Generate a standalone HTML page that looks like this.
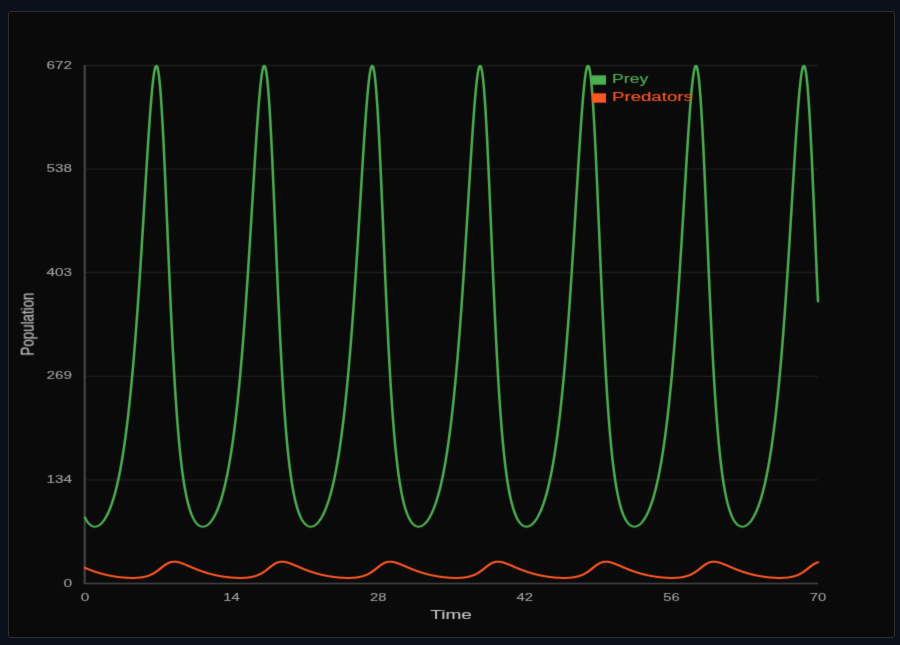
<!DOCTYPE html>
<html><head><meta charset="utf-8"><style>
html,body{margin:0;padding:0;background:#0b0f19;width:900px;height:645px;overflow:hidden}
.card{position:absolute;left:8px;top:11px;width:887px;height:627px;box-sizing:border-box;border:1px solid #2f2f2f;border-radius:3px;background:#0a0a0a}
svg{position:absolute;left:0;top:0;will-change:transform}
text{font-family:"Liberation Sans",sans-serif}
.tk{fill:#a0a0a0;stroke:#a0a0a0;stroke-width:0.1}
.tt{fill:#c4c4c4;stroke:#c4c4c4;stroke-width:0.1}
.lg{stroke-width:0.12}
</style></head><body>
<div class="card"></div>
<svg width="900" height="645" viewBox="0 0 900 645">
<defs><filter id="bl" x="0" y="0" width="900" height="645" filterUnits="userSpaceOnUse" color-interpolation-filters="sRGB"><feConvolveMatrix order="3" kernelMatrix="0.01134 0.08382 0.01134 0.08382 0.61935 0.08382 0.01134 0.08382 0.01134" preserveAlpha="false" edgeMode="none"/></filter></defs>
<g filter="url(#bl)">
<line x1="85" y1="65.5" x2="818" y2="65.5" stroke="#1e1e1e" stroke-width="1.3"/><line x1="85" y1="169.1" x2="818" y2="169.1" stroke="#1e1e1e" stroke-width="1.3"/><line x1="85" y1="272.5" x2="818" y2="272.5" stroke="#1e1e1e" stroke-width="1.3"/><line x1="85" y1="376.3" x2="818" y2="376.3" stroke="#1e1e1e" stroke-width="1.3"/><line x1="85" y1="479.9" x2="818" y2="479.9" stroke="#1e1e1e" stroke-width="1.3"/>
<line x1="84.7" y1="65" x2="84.7" y2="584" stroke="#444444" stroke-width="2.2"/>
<line x1="84" y1="583.5" x2="818" y2="583.5" stroke="#444444" stroke-width="1.5"/>
<text x="72.1" y="68.6" text-anchor="end" font-size="11.5" textLength="25.5" lengthAdjust="spacingAndGlyphs" class="tk">672</text><text x="72.1" y="172.2" text-anchor="end" font-size="11.5" textLength="25.5" lengthAdjust="spacingAndGlyphs" class="tk">538</text><text x="72.1" y="275.6" text-anchor="end" font-size="11.5" textLength="25.5" lengthAdjust="spacingAndGlyphs" class="tk">403</text><text x="72.1" y="379.4" text-anchor="end" font-size="11.5" textLength="25.5" lengthAdjust="spacingAndGlyphs" class="tk">269</text><text x="72.1" y="483.0" text-anchor="end" font-size="11.5" textLength="25.5" lengthAdjust="spacingAndGlyphs" class="tk">134</text><text x="72.1" y="586.6" text-anchor="end" font-size="11.5" textLength="8.6" lengthAdjust="spacingAndGlyphs" class="tk">0</text>
<text x="85.0" y="600.8" text-anchor="middle" font-size="11.5" textLength="8.6" lengthAdjust="spacingAndGlyphs" class="tk">0</text><text x="231.6" y="600.8" text-anchor="middle" font-size="11.5" textLength="16.5" lengthAdjust="spacingAndGlyphs" class="tk">14</text><text x="378.2" y="600.8" text-anchor="middle" font-size="11.5" textLength="16.5" lengthAdjust="spacingAndGlyphs" class="tk">28</text><text x="524.8" y="600.8" text-anchor="middle" font-size="11.5" textLength="16.5" lengthAdjust="spacingAndGlyphs" class="tk">42</text><text x="671.4" y="600.8" text-anchor="middle" font-size="11.5" textLength="16.5" lengthAdjust="spacingAndGlyphs" class="tk">56</text><text x="818.0" y="600.8" text-anchor="middle" font-size="11.5" textLength="16.5" lengthAdjust="spacingAndGlyphs" class="tk">70</text>
<text x="451.15" y="618.8" text-anchor="middle" font-size="13.3" textLength="41.7" lengthAdjust="spacingAndGlyphs" class="tt">Time</text>
<text transform="translate(33.9,324.15) scale(1.3,1) rotate(-90)" x="0" y="0" text-anchor="middle" font-size="13.5" textLength="63" lengthAdjust="spacingAndGlyphs" class="tt">Population</text>
<g transform="scale(1.25,1)" >
<path d="M68.000,517.54 L68.419,518.58 L68.838,519.54 L69.257,520.43 L69.675,521.26 L70.094,522.01 L70.513,522.70 L70.932,523.32 L71.351,523.89 L71.770,524.40 L72.189,524.85 L72.607,525.25 L73.026,525.59 L73.445,525.89 L73.864,526.13 L74.283,526.33 L74.702,526.48 L75.121,526.58 L75.539,526.64 L75.958,526.66 L76.377,526.63 L76.796,526.56 L77.215,526.44 L77.634,526.28 L78.053,526.08 L78.471,525.84 L78.890,525.56 L79.309,525.24 L79.728,524.87 L80.147,524.47 L80.566,524.02 L80.985,523.53 L81.403,523.00 L81.822,522.42 L82.241,521.80 L82.660,521.14 L83.079,520.44 L83.498,519.69 L83.917,518.89 L84.335,518.05 L84.754,517.16 L85.173,516.23 L85.592,515.24 L86.011,514.21 L86.430,513.12 L86.849,511.99 L87.267,510.80 L87.686,509.55 L88.105,508.25 L88.524,506.90 L88.943,505.48 L89.362,504.01 L89.781,502.47 L90.199,500.87 L90.618,499.21 L91.037,497.48 L91.456,495.68 L91.875,493.81 L92.294,491.86 L92.713,489.85 L93.131,487.75 L93.550,485.58 L93.969,483.33 L94.388,480.99 L94.807,478.57 L95.226,476.06 L95.645,473.46 L96.063,470.76 L96.482,467.97 L96.901,465.08 L97.320,462.10 L97.739,459.00 L98.158,455.80 L98.577,452.49 L98.995,449.07 L99.414,445.53 L99.833,441.88 L100.252,438.10 L100.671,434.20 L101.090,430.17 L101.509,426.02 L101.927,421.72 L102.346,417.30 L102.765,412.73 L103.184,408.03 L103.603,403.18 L104.022,398.18 L104.441,393.03 L104.859,387.73 L105.278,382.28 L105.697,376.68 L106.116,370.91 L106.535,364.99 L106.954,358.91 L107.373,352.66 L107.791,346.26 L108.210,339.69 L108.629,332.97 L109.048,326.08 L109.467,319.04 L109.886,311.84 L110.305,304.49 L110.723,296.99 L111.142,289.34 L111.561,281.56 L111.980,273.64 L112.399,265.60 L112.818,257.44 L113.237,249.17 L113.655,240.80 L114.074,232.36 L114.493,223.84 L114.912,215.27 L115.331,206.66 L115.750,198.03 L116.169,189.41 L116.587,180.81 L117.006,172.27 L117.425,163.80 L117.844,155.44 L118.263,147.21 L118.682,139.16 L119.101,131.31 L119.519,123.70 L119.938,116.37 L120.357,109.37 L120.776,102.72 L121.195,96.49 L121.614,90.70 L122.033,85.40 L122.451,80.65 L122.870,76.47 L123.289,72.92 L123.708,70.04 L124.127,67.86 L124.546,66.43 L124.965,65.77 L125.383,65.92 L125.802,66.89 L126.221,68.71 L126.640,71.38 L127.059,74.92 L127.478,79.32 L127.897,84.57 L128.315,90.65 L128.734,97.53 L129.153,105.19 L129.572,113.58 L129.991,122.66 L130.410,132.37 L130.829,142.65 L131.247,153.43 L131.666,164.66 L132.085,176.26 L132.504,188.16 L132.923,200.29 L133.342,212.58 L133.761,224.96 L134.179,237.36 L134.598,249.74 L135.017,262.02 L135.436,274.15 L135.855,286.10 L136.274,297.81 L136.693,309.25 L137.111,320.39 L137.530,331.21 L137.949,341.68 L138.368,351.78 L138.787,361.51 L139.206,370.86 L139.625,379.82 L140.043,388.40 L140.462,396.59 L140.881,404.40 L141.300,411.84 L141.719,418.91 L142.138,425.63 L142.557,432.00 L142.975,438.04 L143.394,443.76 L143.813,449.17 L144.232,454.29 L144.651,459.12 L145.070,463.69 L145.489,467.99 L145.907,472.06 L146.326,475.89 L146.745,479.50 L147.164,482.90 L147.583,486.10 L148.002,489.12 L148.421,491.95 L148.839,494.62 L149.258,497.13 L149.677,499.48 L150.096,501.70 L150.515,503.77 L150.934,505.72 L151.353,507.55 L151.771,509.26 L152.190,510.86 L152.609,512.36 L153.028,513.76 L153.447,515.07 L153.866,516.28 L154.285,517.42 L154.703,518.47 L155.122,519.44 L155.541,520.34 L155.960,521.17 L156.379,521.93 L156.798,522.62 L157.217,523.25 L157.635,523.83 L158.054,524.34 L158.473,524.80 L158.892,525.20 L159.311,525.56 L159.730,525.86 L160.149,526.11 L160.567,526.31 L160.986,526.46 L161.405,526.57 L161.824,526.64 L162.243,526.66 L162.662,526.63 L163.081,526.57 L163.499,526.46 L163.918,526.30 L164.337,526.11 L164.756,525.87 L165.175,525.60 L165.594,525.28 L166.013,524.92 L166.431,524.51 L166.850,524.07 L167.269,523.58 L167.688,523.06 L168.107,522.49 L168.526,521.87 L168.945,521.22 L169.363,520.52 L169.782,519.77 L170.201,518.98 L170.620,518.15 L171.039,517.26 L171.458,516.33 L171.877,515.36 L172.295,514.33 L172.714,513.25 L173.133,512.12 L173.552,510.93 L173.971,509.70 L174.390,508.40 L174.809,507.05 L175.227,505.64 L175.646,504.18 L176.065,502.65 L176.484,501.05 L176.903,499.40 L177.322,497.67 L177.741,495.88 L178.159,494.02 L178.578,492.08 L178.997,490.08 L179.416,487.99 L179.835,485.83 L180.254,483.58 L180.673,481.26 L181.091,478.84 L181.510,476.34 L181.929,473.75 L182.348,471.07 L182.767,468.29 L183.186,465.41 L183.605,462.44 L184.023,459.36 L184.442,456.17 L184.861,452.87 L185.280,449.46 L185.699,445.94 L186.118,442.30 L186.537,438.53 L186.955,434.65 L187.374,430.63 L187.793,426.49 L188.212,422.21 L188.631,417.80 L189.050,413.25 L189.469,408.56 L189.887,403.73 L190.306,398.75 L190.725,393.62 L191.144,388.34 L191.563,382.90 L191.982,377.31 L192.401,371.57 L192.819,365.66 L193.238,359.60 L193.657,353.37 L194.076,346.99 L194.495,340.44 L194.914,333.73 L195.333,326.87 L195.751,319.84 L196.170,312.66 L196.589,305.33 L197.008,297.84 L197.427,290.21 L197.846,282.44 L198.265,274.54 L198.683,266.51 L199.102,258.36 L199.521,250.10 L199.940,241.75 L200.359,233.31 L200.778,224.80 L201.197,216.23 L201.615,207.63 L202.034,199.00 L202.453,190.38 L202.872,181.78 L203.291,173.22 L203.710,164.75 L204.129,156.37 L204.547,148.13 L204.966,140.05 L205.385,132.18 L205.804,124.54 L206.223,117.18 L206.642,110.14 L207.061,103.45 L207.479,97.17 L207.898,91.33 L208.317,85.97 L208.736,81.15 L209.155,76.91 L209.574,73.29 L209.993,70.33 L210.411,68.07 L210.830,66.55 L211.249,65.80 L211.668,65.86 L212.087,66.74 L212.506,68.46 L212.925,71.04 L213.343,74.48 L213.762,78.78 L214.181,83.93 L214.600,89.92 L215.019,96.72 L215.438,104.29 L215.857,112.61 L216.275,121.61 L216.694,131.25 L217.113,141.46 L217.532,152.20 L217.951,163.38 L218.370,174.94 L218.789,186.81 L219.207,198.91 L219.626,211.19 L220.045,223.56 L220.464,235.97 L220.883,248.35 L221.302,260.64 L221.721,272.80 L222.139,284.77 L222.558,296.51 L222.977,307.98 L223.396,319.16 L223.815,330.01 L224.234,340.52 L224.653,350.66 L225.071,360.44 L225.490,369.83 L225.909,378.83 L226.328,387.45 L226.747,395.69 L227.166,403.54 L227.585,411.02 L228.003,418.13 L228.422,424.89 L228.841,431.30 L229.260,437.38 L229.679,443.13 L230.098,448.58 L230.517,453.73 L230.935,458.59 L231.354,463.19 L231.773,467.52 L232.192,471.61 L232.611,475.47 L233.030,479.10 L233.449,482.53 L233.867,485.75 L234.286,488.79 L234.705,491.64 L235.124,494.33 L235.543,496.85 L235.962,499.23 L236.381,501.45 L236.799,503.55 L237.218,505.51 L237.637,507.35 L238.056,509.08 L238.475,510.69 L238.894,512.20 L239.313,513.61 L239.731,514.93 L240.150,516.15 L240.569,517.29 L240.988,518.35 L241.407,519.33 L241.826,520.24 L242.245,521.08 L242.663,521.84 L243.082,522.55 L243.501,523.19 L243.920,523.77 L244.339,524.29 L244.758,524.75 L245.177,525.16 L245.595,525.52 L246.014,525.82 L246.433,526.08 L246.852,526.29 L247.271,526.45 L247.690,526.56 L248.109,526.63 L248.527,526.66 L248.946,526.64 L249.365,526.58 L249.784,526.47 L250.203,526.32 L250.622,526.13 L251.041,525.90 L251.459,525.63 L251.878,525.31 L252.297,524.96 L252.716,524.56 L253.135,524.12 L253.554,523.64 L253.973,523.12 L254.391,522.55 L254.810,521.95 L255.229,521.29 L255.648,520.60 L256.067,519.86 L256.486,519.07 L256.905,518.24 L257.323,517.37 L257.742,516.44 L258.161,515.47 L258.580,514.45 L258.999,513.37 L259.418,512.25 L259.837,511.07 L260.255,509.84 L260.674,508.55 L261.093,507.21 L261.512,505.81 L261.931,504.34 L262.350,502.82 L262.769,501.24 L263.187,499.59 L263.606,497.87 L264.025,496.09 L264.444,494.23 L264.863,492.31 L265.282,490.31 L265.701,488.23 L266.119,486.08 L266.538,483.84 L266.957,481.52 L267.376,479.12 L267.795,476.63 L268.214,474.05 L268.633,471.38 L269.051,468.61 L269.470,465.74 L269.889,462.78 L270.308,459.71 L270.727,456.53 L271.146,453.25 L271.565,449.85 L271.983,446.34 L272.402,442.71 L272.821,438.96 L273.240,435.09 L273.659,431.09 L274.078,426.96 L274.497,422.70 L274.915,418.31 L275.334,413.77 L275.753,409.10 L276.172,404.28 L276.591,399.32 L277.010,394.20 L277.429,388.94 L277.847,383.52 L278.266,377.95 L278.685,372.22 L279.104,366.33 L279.523,360.29 L279.942,354.08 L280.361,347.71 L280.779,341.19 L281.198,334.50 L281.617,327.65 L282.036,320.64 L282.455,313.48 L282.874,306.16 L283.293,298.69 L283.711,291.08 L284.130,283.32 L284.549,275.43 L284.968,267.42 L285.387,259.28 L285.806,251.04 L286.225,242.69 L286.643,234.26 L287.062,225.76 L287.481,217.20 L287.900,208.60 L288.319,199.97 L288.738,191.35 L289.157,182.74 L289.575,174.18 L289.994,165.70 L290.413,157.31 L290.832,149.05 L291.251,140.95 L291.670,133.05 L292.089,125.39 L292.507,118.00 L292.926,110.91 L293.345,104.19 L293.764,97.85 L294.183,91.96 L294.602,86.55 L295.021,81.67 L295.439,77.36 L295.858,73.67 L296.277,70.63 L296.696,68.29 L297.115,66.69 L297.534,65.85 L297.953,65.81 L298.371,66.60 L298.790,68.22 L299.209,70.71 L299.628,74.05 L300.047,78.25 L300.466,83.31 L300.885,89.21 L301.303,95.92 L301.722,103.40 L302.141,111.63 L302.560,120.56 L302.979,130.13 L303.398,140.29 L303.817,150.97 L304.235,162.10 L304.654,173.62 L305.073,185.46 L305.492,197.54 L305.911,209.80 L306.330,222.17 L306.749,234.57 L307.167,246.96 L307.586,259.26 L308.005,271.44 L308.424,283.43 L308.843,295.20 L309.262,306.70 L309.681,317.91 L310.099,328.80 L310.518,339.35 L310.937,349.54 L311.356,359.36 L311.775,368.79 L312.194,377.84 L312.613,386.50 L313.031,394.78 L313.450,402.67 L313.869,410.20 L314.288,417.35 L314.707,424.15 L315.126,430.60 L315.545,436.71 L315.963,442.50 L316.382,447.98 L316.801,453.16 L317.220,458.06 L317.639,462.68 L318.058,467.05 L318.477,471.16 L318.895,475.05 L319.314,478.70 L319.733,482.15 L320.152,485.40 L320.571,488.45 L320.990,491.33 L321.409,494.03 L321.827,496.58 L322.246,498.97 L322.665,501.21 L323.084,503.32 L323.503,505.30 L323.922,507.15 L324.341,508.89 L324.759,510.51 L325.178,512.03 L325.597,513.46 L326.016,514.78 L326.435,516.02 L326.854,517.17 L327.273,518.24 L327.691,519.23 L328.110,520.14 L328.529,520.99 L328.948,521.76 L329.367,522.47 L329.786,523.12 L330.205,523.70 L330.623,524.23 L331.042,524.70 L331.461,525.12 L331.880,525.48 L332.299,525.79 L332.718,526.05 L333.137,526.27 L333.555,526.43 L333.974,526.55 L334.393,526.63 L334.812,526.66 L335.231,526.64 L335.650,526.58 L336.069,526.48 L336.487,526.34 L336.906,526.16 L337.325,525.93 L337.744,525.66 L338.163,525.35 L338.582,525.00 L339.001,524.61 L339.419,524.17 L339.838,523.70 L340.257,523.18 L340.676,522.62 L341.095,522.02 L341.514,521.37 L341.933,520.68 L342.351,519.94 L342.770,519.16 L343.189,518.34 L343.608,517.47 L344.027,516.55 L344.446,515.58 L344.865,514.56 L345.283,513.50 L345.702,512.38 L346.121,511.20 L346.540,509.98 L346.959,508.70 L347.378,507.36 L347.797,505.97 L348.215,504.51 L348.634,503.00 L349.053,501.42 L349.472,499.78 L349.891,498.07 L350.310,496.29 L350.729,494.44 L351.147,492.53 L351.566,490.53 L351.985,488.47 L352.404,486.32 L352.823,484.10 L353.242,481.79 L353.661,479.39 L354.079,476.91 L354.498,474.34 L354.917,471.68 L355.336,468.92 L355.755,466.07 L356.174,463.12 L356.593,460.06 L357.011,456.89 L357.430,453.62 L357.849,450.24 L358.268,446.74 L358.687,443.13 L359.106,439.39 L359.525,435.53 L359.943,431.55 L360.362,427.43 L360.781,423.19 L361.200,418.81 L361.619,414.29 L362.038,409.63 L362.457,404.83 L362.875,399.88 L363.294,394.79 L363.713,389.54 L364.132,384.14 L364.551,378.58 L364.970,372.87 L365.389,367.00 L365.807,360.98 L366.226,354.79 L366.645,348.44 L367.064,341.93 L367.483,335.26 L367.902,328.43 L368.321,321.44 L368.739,314.29 L369.158,306.99 L369.577,299.54 L369.996,291.94 L370.415,284.20 L370.834,276.33 L371.253,268.33 L371.671,260.20 L372.090,251.97 L372.509,243.64 L372.928,235.22 L373.347,226.72 L373.766,218.16 L374.185,209.57 L374.603,200.94 L375.022,192.32 L375.441,183.71 L375.860,175.14 L376.279,166.65 L376.698,158.24 L377.117,149.97 L377.535,141.85 L377.954,133.93 L378.373,126.24 L378.792,118.81 L379.211,111.69 L379.630,104.92 L380.049,98.54 L380.467,92.60 L380.886,87.13 L381.305,82.19 L381.724,77.81 L382.143,74.05 L382.562,70.94 L382.981,68.52 L383.399,66.83 L383.818,65.90 L384.237,65.77 L384.656,66.47 L385.075,68.00 L385.494,70.38 L385.913,73.63 L386.331,77.74 L386.750,82.70 L387.169,88.50 L387.588,95.12 L388.007,102.52 L388.426,110.67 L388.845,119.52 L389.263,129.02 L389.682,139.12 L390.101,149.74 L390.520,160.83 L390.939,172.31 L391.358,184.11 L391.777,196.17 L392.195,208.41 L392.614,220.77 L393.033,233.18 L393.452,245.57 L393.871,257.89 L394.290,270.08 L394.709,282.09 L395.127,293.89 L395.546,305.42 L395.965,316.67 L396.384,327.60 L396.803,338.18 L397.222,348.41 L397.641,358.27 L398.059,367.75 L398.478,376.84 L398.897,385.55 L399.316,393.87 L399.735,401.80 L400.154,409.37 L400.573,416.56 L400.991,423.40 L401.410,429.89 L401.829,436.04 L402.248,441.86 L402.667,447.38 L403.086,452.59 L403.505,457.52 L403.923,462.17 L404.342,466.57 L404.761,470.71 L405.180,474.62 L405.599,478.30 L406.018,481.77 L406.437,485.04 L406.855,488.12 L407.274,491.01 L407.693,493.74 L408.112,496.30 L408.531,498.70 L408.950,500.96 L409.369,503.09 L409.787,505.08 L410.206,506.95 L410.625,508.70 L411.044,510.34 L411.463,511.87 L411.882,513.30 L412.301,514.64 L412.719,515.88 L413.138,517.04 L413.557,518.12 L413.976,519.12 L414.395,520.04 L414.814,520.89 L415.233,521.68 L415.651,522.39 L416.070,523.05 L416.489,523.64 L416.908,524.17 L417.327,524.65 L417.746,525.07 L418.165,525.44 L418.583,525.76 L419.002,526.03 L419.421,526.25 L419.840,526.42 L420.259,526.54 L420.678,526.62 L421.097,526.66 L421.515,526.65 L421.934,526.59 L422.353,526.50 L422.772,526.36 L423.191,526.18 L423.610,525.96 L424.029,525.69 L424.447,525.39 L424.866,525.04 L425.285,524.65 L425.704,524.22 L426.123,523.75 L426.542,523.24 L426.961,522.68 L427.379,522.09 L427.798,521.44 L428.217,520.76 L428.636,520.03 L429.055,519.25 L429.474,518.43 L429.893,517.57 L430.311,516.65 L430.730,515.69 L431.149,514.68 L431.568,513.62 L431.987,512.50 L432.406,511.34 L432.825,510.12 L433.243,508.85 L433.662,507.51 L434.081,506.13 L434.500,504.68 L434.919,503.17 L435.338,501.60 L435.757,499.96 L436.175,498.26 L436.594,496.49 L437.013,494.66 L437.432,492.75 L437.851,490.76 L438.270,488.70 L438.689,486.57 L439.107,484.35 L439.526,482.05 L439.945,479.67 L440.364,477.20 L440.783,474.64 L441.202,471.99 L441.621,469.24 L442.039,466.40 L442.458,463.45 L442.877,460.41 L443.296,457.26 L443.715,454.00 L444.134,450.62 L444.553,447.14 L444.971,443.54 L445.390,439.82 L445.809,435.97 L446.228,432.00 L446.647,427.90 L447.066,423.67 L447.485,419.31 L447.903,414.80 L448.322,410.16 L448.741,405.38 L449.160,400.45 L449.579,395.37 L449.998,390.14 L450.417,384.75 L450.835,379.22 L451.254,373.52 L451.673,367.67 L452.092,361.66 L452.511,355.49 L452.930,349.16 L453.349,342.67 L453.767,336.02 L454.186,329.20 L454.605,322.23 L455.024,315.10 L455.443,307.82 L455.862,300.38 L456.281,292.80 L456.699,285.08 L457.118,277.22 L457.537,269.23 L457.956,261.12 L458.375,252.90 L458.794,244.58 L459.213,236.17 L459.631,227.68 L460.050,219.13 L460.469,210.54 L460.888,201.91 L461.307,193.29 L461.726,184.68 L462.145,176.10 L462.563,167.60 L462.982,159.18 L463.401,150.89 L463.820,142.76 L464.239,134.81 L464.658,127.09 L465.077,119.63 L465.495,112.48 L465.914,105.67 L466.333,99.24 L466.752,93.24 L467.171,87.72 L467.590,82.72 L468.009,78.28 L468.427,74.44 L468.846,71.25 L469.265,68.75 L469.684,66.98 L470.103,65.97 L470.522,65.75 L470.941,66.35 L471.359,67.78 L471.778,70.07 L472.197,73.22 L472.616,77.23 L473.035,82.10 L473.454,87.81 L473.873,94.34 L474.291,101.65 L474.710,109.72 L475.129,118.49 L475.548,127.93 L475.967,137.95 L476.386,148.52 L476.805,159.56 L477.223,171.00 L477.642,182.77 L478.061,194.81 L478.480,207.03 L478.899,219.38 L479.318,231.78 L479.737,244.18 L480.155,256.50 L480.574,268.71 L480.993,280.75 L481.412,292.57 L481.831,304.14 L482.250,315.42 L482.669,326.38 L483.087,337.01 L483.506,347.28 L483.925,357.18 L484.344,366.70 L484.763,375.84 L485.182,384.59 L485.601,392.95 L486.019,400.93 L486.438,408.54 L486.857,415.77 L487.276,422.65 L487.695,429.17 L488.114,435.36 L488.533,441.22 L488.951,446.77 L489.370,452.02 L489.789,456.98 L490.208,461.66 L490.627,466.09 L491.046,470.26 L491.465,474.19 L491.883,477.90 L492.302,481.39 L492.721,484.68 L493.140,487.78 L493.559,490.70 L493.978,493.44 L494.397,496.02 L494.815,498.44 L495.234,500.72 L495.653,502.86 L496.072,504.86 L496.491,506.74 L496.910,508.51 L497.329,510.16 L497.747,511.70 L498.166,513.14 L498.585,514.49 L499.004,515.75 L499.423,516.92 L499.842,518.00 L500.261,519.01 L500.679,519.94 L501.098,520.80 L501.517,521.59 L501.936,522.32 L502.355,522.98 L502.774,523.58 L503.193,524.12 L503.611,524.60 L504.030,525.03 L504.449,525.40 L504.868,525.73 L505.287,526.00 L505.706,526.22 L506.125,526.40 L506.543,526.53 L506.962,526.61 L507.381,526.65 L507.800,526.65 L508.219,526.60 L508.638,526.51 L509.057,526.38 L509.475,526.20 L509.894,525.98 L510.313,525.73 L510.732,525.42 L511.151,525.08 L511.570,524.70 L511.989,524.28 L512.407,523.81 L512.826,523.30 L513.245,522.75 L513.664,522.16 L514.083,521.52 L514.502,520.84 L514.921,520.11 L515.339,519.34 L515.758,518.53 L516.177,517.67 L516.596,516.76 L517.015,515.80 L517.434,514.80 L517.853,513.74 L518.271,512.63 L518.690,511.47 L519.109,510.26 L519.528,508.99 L519.947,507.67 L520.366,506.29 L520.785,504.84 L521.203,503.34 L521.622,501.78 L522.041,500.15 L522.460,498.46 L522.879,496.70 L523.298,494.87 L523.717,492.96 L524.135,490.99 L524.554,488.94 L524.973,486.81 L525.392,484.60 L525.811,482.31 L526.230,479.94 L526.649,477.48 L527.067,474.93 L527.486,472.29 L527.905,469.55 L528.324,466.72 L528.743,463.79 L529.162,460.75 L529.581,457.62 L529.999,454.37 L530.418,451.01 L530.837,447.54 L531.256,443.95 L531.675,440.24 L532.094,436.41 L532.513,432.46 L532.931,428.37 L533.350,424.16 L533.769,419.81 L534.188,415.32 L534.607,410.69 L535.026,405.92 L535.445,401.01 L535.863,395.94 L536.282,390.73 L536.701,385.37 L537.120,379.85 L537.539,374.17 L537.958,368.34 L538.377,362.35 L538.795,356.19 L539.214,349.88 L539.633,343.41 L540.052,336.77 L540.471,329.98 L540.890,323.02 L541.309,315.91 L541.727,308.65 L542.146,301.23 L542.565,293.66 L542.984,285.96 L543.403,278.11 L543.822,270.14 L544.241,262.04 L544.659,253.83 L545.078,245.52 L545.497,237.12 L545.916,228.64 L546.335,220.09 L546.754,211.50 L547.173,202.89 L547.591,194.26 L548.010,185.64 L548.429,177.07 L548.848,168.55 L549.267,160.12 L549.686,151.82 L550.105,143.66 L550.523,135.70 L550.942,127.95 L551.361,120.46 L551.780,113.27 L552.199,106.41 L552.618,99.94 L553.037,93.90 L553.455,88.32 L553.874,83.25 L554.293,78.75 L554.712,74.84 L555.131,71.58 L555.550,69.00 L555.969,67.14 L556.387,66.04 L556.806,65.73 L557.225,66.24 L557.644,67.58 L558.063,69.77 L558.482,72.82 L558.901,76.74 L559.319,81.51 L559.738,87.13 L560.157,93.56 L560.576,100.79 L560.995,108.78 L561.414,117.47 L561.833,126.83 L562.251,136.80 L562.670,147.31 L563.089,158.30 L563.508,169.69 L563.927,181.43 L564.346,193.44 L564.765,205.65 L565.183,217.98 L565.602,230.38 L566.021,242.78 L566.440,255.12 L566.859,267.35 L567.278,279.41 L567.697,291.25 L568.115,302.85 L568.534,314.16 L568.953,325.17 L569.372,335.83 L569.791,346.14 L570.210,356.08 L570.629,365.65 L571.047,374.83 L571.466,383.62 L571.885,392.03 L572.304,400.05 L572.723,407.70 L573.142,414.98 L573.561,421.89 L573.979,428.46 L574.398,434.68 L574.817,440.58 L575.236,446.16 L575.655,451.44 L576.074,456.44 L576.493,461.15 L576.911,465.60 L577.330,469.80 L577.749,473.76 L578.168,477.49 L578.587,481.01 L579.006,484.32 L579.425,487.44 L579.843,490.38 L580.262,493.14 L580.681,495.74 L581.100,498.18 L581.519,500.47 L581.938,502.62 L582.357,504.64 L582.775,506.54 L583.194,508.31 L583.613,509.98 L584.032,511.53 L584.451,512.99 L584.870,514.35 L585.289,515.61 L585.707,516.79 L586.126,517.89 L586.545,518.90 L586.964,519.84 L587.383,520.71 L587.802,521.51 L588.221,522.24 L588.639,522.91 L589.058,523.51 L589.477,524.06 L589.896,524.55 L590.315,524.98 L590.734,525.36 L591.153,525.69 L591.571,525.97 L591.990,526.20 L592.409,526.38 L592.828,526.52 L593.247,526.61 L593.666,526.65 L594.085,526.65 L594.503,526.61 L594.922,526.52 L595.341,526.39 L595.760,526.22 L596.179,526.01 L596.598,525.76 L597.017,525.46 L597.435,525.12 L597.854,524.75 L598.273,524.32 L598.692,523.86 L599.111,523.36 L599.530,522.81 L599.949,522.22 L600.367,521.59 L600.786,520.92 L601.205,520.20 L601.624,519.43 L602.043,518.62 L602.462,517.77 L602.881,516.86 L603.299,515.91 L603.718,514.91 L604.137,513.86 L604.556,512.76 L604.975,511.61 L605.394,510.40 L605.813,509.14 L606.231,507.82 L606.650,506.44 L607.069,505.01 L607.488,503.51 L607.907,501.96 L608.326,500.34 L608.745,498.65 L609.163,496.90 L609.582,495.08 L610.001,493.18 L610.420,491.22 L610.839,489.17 L611.258,487.05 L611.677,484.86 L612.095,482.58 L612.514,480.21 L612.933,477.76 L613.352,475.22 L613.771,472.59 L614.190,469.87 L614.609,467.04 L615.027,464.12 L615.446,461.10 L615.865,457.97 L616.284,454.74 L616.703,451.39 L617.122,447.93 L617.541,444.36 L617.959,440.66 L618.378,436.85 L618.797,432.91 L619.216,428.84 L619.635,424.64 L620.054,420.30 L620.473,415.83 L620.891,411.22 L621.310,406.47 L621.729,401.57 L622.148,396.52 L622.567,391.33 L622.986,385.98 L623.405,380.48 L623.823,374.82 L624.242,369.00 L624.661,363.03 L625.080,356.89 L625.499,350.60 L625.918,344.14 L626.337,337.53 L626.755,330.75 L627.174,323.81 L627.593,316.72 L628.012,309.47 L628.431,302.07 L628.850,294.52 L629.269,286.83 L629.687,279.00 L630.106,271.04 L630.525,262.96 L630.944,254.76 L631.363,246.46 L631.782,238.07 L632.201,229.59 L632.619,221.06 L633.038,212.47 L633.457,203.86 L633.876,195.23 L634.295,186.61 L634.714,178.03 L635.133,169.50 L635.551,161.07 L635.970,152.75 L636.389,144.57 L636.808,136.58 L637.227,128.81 L637.646,121.29 L638.065,114.06 L638.483,107.17 L638.902,100.65 L639.321,94.55 L639.740,88.92 L640.159,83.80 L640.578,79.22 L640.997,75.25 L641.415,71.91 L641.834,69.25 L642.253,67.31 L642.672,66.13 L643.091,65.73 L643.510,66.14 L643.929,67.39 L644.347,69.48 L644.766,72.44 L645.185,76.26 L645.604,80.93 L646.023,86.45 L646.442,92.80 L646.861,99.94 L647.279,107.84 L647.698,116.46 L648.117,125.75 L648.536,135.65 L648.955,146.10 L649.374,157.04 L649.793,168.39 L650.211,180.10 L650.630,192.08 L651.049,204.27 L651.468,216.59 L651.887,228.99 L652.306,241.39 L652.725,253.74 L653.143,265.98 L653.562,278.06 L653.981,289.93 L654.400,301.56" fill="none" stroke="#4caf50" stroke-width="2.0" stroke-linejoin="round" stroke-linecap="round"/>
<path d="M68.000,567.83 L68.419,568.05 L68.838,568.27 L69.257,568.49 L69.675,568.70 L70.094,568.91 L70.513,569.12 L70.932,569.33 L71.351,569.54 L71.770,569.74 L72.189,569.94 L72.607,570.14 L73.026,570.33 L73.445,570.53 L73.864,570.72 L74.283,570.91 L74.702,571.09 L75.121,571.28 L75.539,571.46 L75.958,571.64 L76.377,571.81 L76.796,571.99 L77.215,572.16 L77.634,572.32 L78.053,572.49 L78.471,572.65 L78.890,572.81 L79.309,572.97 L79.728,573.12 L80.147,573.27 L80.566,573.42 L80.985,573.57 L81.403,573.71 L81.822,573.85 L82.241,573.99 L82.660,574.13 L83.079,574.26 L83.498,574.39 L83.917,574.52 L84.335,574.65 L84.754,574.77 L85.173,574.89 L85.592,575.01 L86.011,575.12 L86.430,575.24 L86.849,575.35 L87.267,575.46 L87.686,575.56 L88.105,575.67 L88.524,575.77 L88.943,575.87 L89.362,575.96 L89.781,576.06 L90.199,576.15 L90.618,576.24 L91.037,576.33 L91.456,576.41 L91.875,576.50 L92.294,576.58 L92.713,576.66 L93.131,576.73 L93.550,576.81 L93.969,576.88 L94.388,576.95 L94.807,577.01 L95.226,577.08 L95.645,577.14 L96.063,577.20 L96.482,577.26 L96.901,577.32 L97.320,577.37 L97.739,577.42 L98.158,577.47 L98.577,577.52 L98.995,577.56 L99.414,577.60 L99.833,577.64 L100.252,577.68 L100.671,577.72 L101.090,577.75 L101.509,577.78 L101.927,577.81 L102.346,577.83 L102.765,577.85 L103.184,577.87 L103.603,577.89 L104.022,577.90 L104.441,577.92 L104.859,577.92 L105.278,577.93 L105.697,577.93 L106.116,577.93 L106.535,577.93 L106.954,577.92 L107.373,577.91 L107.791,577.90 L108.210,577.88 L108.629,577.86 L109.048,577.83 L109.467,577.80 L109.886,577.77 L110.305,577.73 L110.723,577.69 L111.142,577.64 L111.561,577.59 L111.980,577.53 L112.399,577.47 L112.818,577.41 L113.237,577.33 L113.655,577.25 L114.074,577.17 L114.493,577.08 L114.912,576.98 L115.331,576.87 L115.750,576.76 L116.169,576.64 L116.587,576.51 L117.006,576.37 L117.425,576.22 L117.844,576.07 L118.263,575.90 L118.682,575.73 L119.101,575.54 L119.519,575.35 L119.938,575.14 L120.357,574.92 L120.776,574.69 L121.195,574.45 L121.614,574.20 L122.033,573.93 L122.451,573.65 L122.870,573.36 L123.289,573.06 L123.708,572.74 L124.127,572.41 L124.546,572.07 L124.965,571.72 L125.383,571.36 L125.802,570.99 L126.221,570.60 L126.640,570.21 L127.059,569.81 L127.478,569.40 L127.897,568.99 L128.315,568.58 L128.734,568.16 L129.153,567.74 L129.572,567.32 L129.991,566.91 L130.410,566.50 L130.829,566.10 L131.247,565.71 L131.666,565.33 L132.085,564.96 L132.504,564.61 L132.923,564.27 L133.342,563.95 L133.761,563.64 L134.179,563.36 L134.598,563.10 L135.017,562.86 L135.436,562.64 L135.855,562.45 L136.274,562.28 L136.693,562.13 L137.111,562.00 L137.530,561.90 L137.949,561.82 L138.368,561.76 L138.787,561.72 L139.206,561.70 L139.625,561.70 L140.043,561.72 L140.462,561.76 L140.881,561.81 L141.300,561.88 L141.719,561.97 L142.138,562.07 L142.557,562.18 L142.975,562.31 L143.394,562.44 L143.813,562.59 L144.232,562.75 L144.651,562.92 L145.070,563.09 L145.489,563.27 L145.907,563.46 L146.326,563.65 L146.745,563.85 L147.164,564.06 L147.583,564.27 L148.002,564.48 L148.421,564.69 L148.839,564.91 L149.258,565.13 L149.677,565.35 L150.096,565.57 L150.515,565.80 L150.934,566.02 L151.353,566.25 L151.771,566.47 L152.190,566.70 L152.609,566.92 L153.028,567.14 L153.447,567.37 L153.866,567.59 L154.285,567.81 L154.703,568.03 L155.122,568.25 L155.541,568.46 L155.960,568.68 L156.379,568.89 L156.798,569.10 L157.217,569.31 L157.635,569.51 L158.054,569.72 L158.473,569.92 L158.892,570.12 L159.311,570.31 L159.730,570.51 L160.149,570.70 L160.567,570.89 L160.986,571.07 L161.405,571.26 L161.824,571.44 L162.243,571.62 L162.662,571.79 L163.081,571.97 L163.499,572.14 L163.918,572.30 L164.337,572.47 L164.756,572.63 L165.175,572.79 L165.594,572.95 L166.013,573.10 L166.431,573.26 L166.850,573.40 L167.269,573.55 L167.688,573.70 L168.107,573.84 L168.526,573.98 L168.945,574.11 L169.363,574.25 L169.782,574.38 L170.201,574.51 L170.620,574.63 L171.039,574.76 L171.458,574.88 L171.877,575.00 L172.295,575.11 L172.714,575.23 L173.133,575.34 L173.552,575.45 L173.971,575.55 L174.390,575.66 L174.809,575.76 L175.227,575.86 L175.646,575.95 L176.065,576.05 L176.484,576.14 L176.903,576.23 L177.322,576.32 L177.741,576.40 L178.159,576.49 L178.578,576.57 L178.997,576.65 L179.416,576.72 L179.835,576.80 L180.254,576.87 L180.673,576.94 L181.091,577.01 L181.510,577.07 L181.929,577.14 L182.348,577.20 L182.767,577.25 L183.186,577.31 L183.605,577.36 L184.023,577.42 L184.442,577.47 L184.861,577.51 L185.280,577.56 L185.699,577.60 L186.118,577.64 L186.537,577.68 L186.955,577.71 L187.374,577.75 L187.793,577.78 L188.212,577.80 L188.631,577.83 L189.050,577.85 L189.469,577.87 L189.887,577.89 L190.306,577.90 L190.725,577.91 L191.144,577.92 L191.563,577.93 L191.982,577.93 L192.401,577.93 L192.819,577.93 L193.238,577.92 L193.657,577.91 L194.076,577.90 L194.495,577.88 L194.914,577.86 L195.333,577.84 L195.751,577.81 L196.170,577.77 L196.589,577.74 L197.008,577.70 L197.427,577.65 L197.846,577.60 L198.265,577.54 L198.683,577.48 L199.102,577.41 L199.521,577.34 L199.940,577.26 L200.359,577.18 L200.778,577.09 L201.197,576.99 L201.615,576.88 L202.034,576.77 L202.453,576.65 L202.872,576.52 L203.291,576.39 L203.710,576.24 L204.129,576.09 L204.547,575.92 L204.966,575.75 L205.385,575.56 L205.804,575.37 L206.223,575.16 L206.642,574.95 L207.061,574.72 L207.479,574.48 L207.898,574.23 L208.317,573.96 L208.736,573.69 L209.155,573.40 L209.574,573.09 L209.993,572.78 L210.411,572.45 L210.830,572.11 L211.249,571.76 L211.668,571.40 L212.087,571.03 L212.506,570.65 L212.925,570.25 L213.343,569.86 L213.762,569.45 L214.181,569.04 L214.600,568.62 L215.019,568.21 L215.438,567.79 L215.857,567.37 L216.275,566.96 L216.694,566.55 L217.113,566.15 L217.532,565.75 L217.951,565.37 L218.370,565.00 L218.789,564.65 L219.207,564.30 L219.626,563.98 L220.045,563.68 L220.464,563.39 L220.883,563.13 L221.302,562.89 L221.721,562.67 L222.139,562.47 L222.558,562.29 L222.977,562.14 L223.396,562.01 L223.815,561.91 L224.234,561.82 L224.653,561.76 L225.071,561.72 L225.490,561.70 L225.909,561.70 L226.328,561.72 L226.747,561.75 L227.166,561.80 L227.585,561.87 L228.003,561.96 L228.422,562.06 L228.841,562.17 L229.260,562.29 L229.679,562.43 L230.098,562.57 L230.517,562.73 L230.935,562.90 L231.354,563.07 L231.773,563.25 L232.192,563.44 L232.611,563.63 L233.030,563.83 L233.449,564.03 L233.867,564.24 L234.286,564.45 L234.705,564.67 L235.124,564.89 L235.543,565.11 L235.962,565.33 L236.381,565.55 L236.799,565.77 L237.218,566.00 L237.637,566.22 L238.056,566.45 L238.475,566.67 L238.894,566.90 L239.313,567.12 L239.731,567.34 L240.150,567.56 L240.569,567.78 L240.988,568.00 L241.407,568.22 L241.826,568.44 L242.245,568.65 L242.663,568.86 L243.082,569.07 L243.501,569.28 L243.920,569.49 L244.339,569.69 L244.758,569.89 L245.177,570.09 L245.595,570.29 L246.014,570.48 L246.433,570.68 L246.852,570.87 L247.271,571.05 L247.690,571.24 L248.109,571.42 L248.527,571.60 L248.946,571.77 L249.365,571.95 L249.784,572.12 L250.203,572.29 L250.622,572.45 L251.041,572.61 L251.459,572.77 L251.878,572.93 L252.297,573.09 L252.716,573.24 L253.135,573.39 L253.554,573.54 L253.973,573.68 L254.391,573.82 L254.810,573.96 L255.229,574.10 L255.648,574.23 L256.067,574.36 L256.486,574.49 L256.905,574.62 L257.323,574.74 L257.742,574.86 L258.161,574.98 L258.580,575.10 L258.999,575.21 L259.418,575.32 L259.837,575.43 L260.255,575.54 L260.674,575.64 L261.093,575.75 L261.512,575.85 L261.931,575.94 L262.350,576.04 L262.769,576.13 L263.187,576.22 L263.606,576.31 L264.025,576.39 L264.444,576.48 L264.863,576.56 L265.282,576.64 L265.701,576.72 L266.119,576.79 L266.538,576.86 L266.957,576.93 L267.376,577.00 L267.795,577.06 L268.214,577.13 L268.633,577.19 L269.051,577.25 L269.470,577.30 L269.889,577.36 L270.308,577.41 L270.727,577.46 L271.146,577.51 L271.565,577.55 L271.983,577.59 L272.402,577.64 L272.821,577.67 L273.240,577.71 L273.659,577.74 L274.078,577.77 L274.497,577.80 L274.915,577.83 L275.334,577.85 L275.753,577.87 L276.172,577.89 L276.591,577.90 L277.010,577.91 L277.429,577.92 L277.847,577.93 L278.266,577.93 L278.685,577.93 L279.104,577.93 L279.523,577.92 L279.942,577.91 L280.361,577.90 L280.779,577.88 L281.198,577.86 L281.617,577.84 L282.036,577.81 L282.455,577.78 L282.874,577.74 L283.293,577.70 L283.711,577.65 L284.130,577.60 L284.549,577.55 L284.968,577.49 L285.387,577.42 L285.806,577.35 L286.225,577.27 L286.643,577.19 L287.062,577.10 L287.481,577.00 L287.900,576.90 L288.319,576.78 L288.738,576.66 L289.157,576.54 L289.575,576.40 L289.994,576.26 L290.413,576.10 L290.832,575.94 L291.251,575.77 L291.670,575.59 L292.089,575.39 L292.507,575.19 L292.926,574.97 L293.345,574.75 L293.764,574.51 L294.183,574.26 L294.602,573.99 L295.021,573.72 L295.439,573.43 L295.858,573.13 L296.277,572.82 L296.696,572.49 L297.115,572.15 L297.534,571.80 L297.953,571.44 L298.371,571.07 L298.790,570.69 L299.209,570.30 L299.628,569.90 L300.047,569.50 L300.466,569.09 L300.885,568.67 L301.303,568.25 L301.722,567.84 L302.141,567.42 L302.560,567.00 L302.979,566.59 L303.398,566.19 L303.817,565.80 L304.235,565.41 L304.654,565.04 L305.073,564.68 L305.492,564.34 L305.911,564.02 L306.330,563.71 L306.749,563.42 L307.167,563.16 L307.586,562.91 L308.005,562.69 L308.424,562.49 L308.843,562.31 L309.262,562.16 L309.681,562.03 L310.099,561.92 L310.518,561.83 L310.937,561.77 L311.356,561.72 L311.775,561.70 L312.194,561.70 L312.613,561.71 L313.031,561.75 L313.450,561.80 L313.869,561.86 L314.288,561.95 L314.707,562.04 L315.126,562.15 L315.545,562.28 L315.963,562.41 L316.382,562.56 L316.801,562.71 L317.220,562.88 L317.639,563.05 L318.058,563.23 L318.477,563.42 L318.895,563.61 L319.314,563.81 L319.733,564.01 L320.152,564.22 L320.571,564.43 L320.990,564.64 L321.409,564.86 L321.827,565.08 L322.246,565.30 L322.665,565.52 L323.084,565.75 L323.503,565.97 L323.922,566.20 L324.341,566.42 L324.759,566.65 L325.178,566.87 L325.597,567.09 L326.016,567.32 L326.435,567.54 L326.854,567.76 L327.273,567.98 L327.691,568.20 L328.110,568.41 L328.529,568.63 L328.948,568.84 L329.367,569.05 L329.786,569.26 L330.205,569.47 L330.623,569.67 L331.042,569.87 L331.461,570.07 L331.880,570.27 L332.299,570.46 L332.718,570.65 L333.137,570.84 L333.555,571.03 L333.974,571.22 L334.393,571.40 L334.812,571.58 L335.231,571.75 L335.650,571.93 L336.069,572.10 L336.487,572.27 L336.906,572.43 L337.325,572.60 L337.744,572.76 L338.163,572.91 L338.582,573.07 L339.001,573.22 L339.419,573.37 L339.838,573.52 L340.257,573.66 L340.676,573.81 L341.095,573.94 L341.514,574.08 L341.933,574.22 L342.351,574.35 L342.770,574.48 L343.189,574.60 L343.608,574.73 L344.027,574.85 L344.446,574.97 L344.865,575.09 L345.283,575.20 L345.702,575.31 L346.121,575.42 L346.540,575.53 L346.959,575.63 L347.378,575.73 L347.797,575.83 L348.215,575.93 L348.634,576.03 L349.053,576.12 L349.472,576.21 L349.891,576.30 L350.310,576.39 L350.729,576.47 L351.147,576.55 L351.566,576.63 L351.985,576.71 L352.404,576.78 L352.823,576.85 L353.242,576.92 L353.661,576.99 L354.079,577.06 L354.498,577.12 L354.917,577.18 L355.336,577.24 L355.755,577.30 L356.174,577.35 L356.593,577.40 L357.011,577.45 L357.430,577.50 L357.849,577.55 L358.268,577.59 L358.687,577.63 L359.106,577.67 L359.525,577.70 L359.943,577.74 L360.362,577.77 L360.781,577.80 L361.200,577.82 L361.619,577.85 L362.038,577.87 L362.457,577.88 L362.875,577.90 L363.294,577.91 L363.713,577.92 L364.132,577.93 L364.551,577.93 L364.970,577.93 L365.389,577.93 L365.807,577.92 L366.226,577.91 L366.645,577.90 L367.064,577.89 L367.483,577.87 L367.902,577.84 L368.321,577.81 L368.739,577.78 L369.158,577.75 L369.577,577.70 L369.996,577.66 L370.415,577.61 L370.834,577.55 L371.253,577.49 L371.671,577.43 L372.090,577.36 L372.509,577.28 L372.928,577.20 L373.347,577.11 L373.766,577.01 L374.185,576.91 L374.603,576.80 L375.022,576.68 L375.441,576.55 L375.860,576.42 L376.279,576.27 L376.698,576.12 L377.117,575.96 L377.535,575.79 L377.954,575.61 L378.373,575.41 L378.792,575.21 L379.211,575.00 L379.630,574.77 L380.049,574.53 L380.467,574.28 L380.886,574.02 L381.305,573.75 L381.724,573.46 L382.143,573.16 L382.562,572.85 L382.981,572.53 L383.399,572.19 L383.818,571.84 L384.237,571.48 L384.656,571.11 L385.075,570.73 L385.494,570.34 L385.913,569.95 L386.331,569.54 L386.750,569.13 L387.169,568.72 L387.588,568.30 L388.007,567.88 L388.426,567.47 L388.845,567.05 L389.263,566.64 L389.682,566.24 L390.101,565.84 L390.520,565.46 L390.939,565.08 L391.358,564.72 L391.777,564.38 L392.195,564.05 L392.614,563.74 L393.033,563.46 L393.452,563.19 L393.871,562.94 L394.290,562.71 L394.709,562.51 L395.127,562.33 L395.546,562.17 L395.965,562.04 L396.384,561.93 L396.803,561.84 L397.222,561.77 L397.641,561.73 L398.059,561.70 L398.478,561.70 L398.897,561.71 L399.316,561.74 L399.735,561.79 L400.154,561.86 L400.573,561.94 L400.991,562.03 L401.410,562.14 L401.829,562.26 L402.248,562.40 L402.667,562.54 L403.086,562.69 L403.505,562.86 L403.923,563.03 L404.342,563.21 L404.761,563.40 L405.180,563.59 L405.599,563.79 L406.018,563.99 L406.437,564.20 L406.855,564.41 L407.274,564.62 L407.693,564.84 L408.112,565.06 L408.531,565.28 L408.950,565.50 L409.369,565.72 L409.787,565.95 L410.206,566.17 L410.625,566.40 L411.044,566.62 L411.463,566.85 L411.882,567.07 L412.301,567.29 L412.719,567.51 L413.138,567.74 L413.557,567.95 L413.976,568.17 L414.395,568.39 L414.814,568.60 L415.233,568.82 L415.651,569.03 L416.070,569.24 L416.489,569.44 L416.908,569.65 L417.327,569.85 L417.746,570.05 L418.165,570.25 L418.583,570.44 L419.002,570.63 L419.421,570.82 L419.840,571.01 L420.259,571.20 L420.678,571.38 L421.097,571.56 L421.515,571.73 L421.934,571.91 L422.353,572.08 L422.772,572.25 L423.191,572.41 L423.610,572.58 L424.029,572.74 L424.447,572.90 L424.866,573.05 L425.285,573.20 L425.704,573.35 L426.123,573.50 L426.542,573.65 L426.961,573.79 L427.379,573.93 L427.798,574.07 L428.217,574.20 L428.636,574.33 L429.055,574.46 L429.474,574.59 L429.893,574.71 L430.311,574.84 L430.730,574.96 L431.149,575.07 L431.568,575.19 L431.987,575.30 L432.406,575.41 L432.825,575.52 L433.243,575.62 L433.662,575.72 L434.081,575.82 L434.500,575.92 L434.919,576.02 L435.338,576.11 L435.757,576.20 L436.175,576.29 L436.594,576.38 L437.013,576.46 L437.432,576.54 L437.851,576.62 L438.270,576.70 L438.689,576.77 L439.107,576.85 L439.526,576.92 L439.945,576.98 L440.364,577.05 L440.783,577.11 L441.202,577.18 L441.621,577.23 L442.039,577.29 L442.458,577.35 L442.877,577.40 L443.296,577.45 L443.715,577.50 L444.134,577.54 L444.553,577.59 L444.971,577.63 L445.390,577.66 L445.809,577.70 L446.228,577.73 L446.647,577.77 L447.066,577.79 L447.485,577.82 L447.903,577.84 L448.322,577.86 L448.741,577.88 L449.160,577.90 L449.579,577.91 L449.998,577.92 L450.417,577.93 L450.835,577.93 L451.254,577.93 L451.673,577.93 L452.092,577.92 L452.511,577.92 L452.930,577.90 L453.349,577.89 L453.767,577.87 L454.186,577.84 L454.605,577.82 L455.024,577.79 L455.443,577.75 L455.862,577.71 L456.281,577.66 L456.699,577.62 L457.118,577.56 L457.537,577.50 L457.956,577.44 L458.375,577.37 L458.794,577.29 L459.213,577.21 L459.631,577.12 L460.050,577.02 L460.469,576.92 L460.888,576.81 L461.307,576.69 L461.726,576.57 L462.145,576.43 L462.563,576.29 L462.982,576.14 L463.401,575.98 L463.820,575.81 L464.239,575.63 L464.658,575.44 L465.077,575.23 L465.495,575.02 L465.914,574.80 L466.333,574.56 L466.752,574.31 L467.171,574.05 L467.590,573.78 L468.009,573.49 L468.427,573.20 L468.846,572.89 L469.265,572.56 L469.684,572.23 L470.103,571.88 L470.522,571.52 L470.941,571.16 L471.359,570.78 L471.778,570.39 L472.197,569.99 L472.616,569.59 L473.035,569.18 L473.454,568.76 L473.873,568.35 L474.291,567.93 L474.710,567.51 L475.129,567.10 L475.548,566.69 L475.967,566.28 L476.386,565.89 L476.805,565.50 L477.223,565.12 L477.642,564.76 L478.061,564.42 L478.480,564.09 L478.899,563.78 L479.318,563.49 L479.737,563.22 L480.155,562.97 L480.574,562.74 L480.993,562.53 L481.412,562.35 L481.831,562.19 L482.250,562.05 L482.669,561.94 L483.087,561.85 L483.506,561.78 L483.925,561.73 L484.344,561.70 L484.763,561.70 L485.182,561.71 L485.601,561.74 L486.019,561.78 L486.438,561.85 L486.857,561.93 L487.276,562.02 L487.695,562.13 L488.114,562.25 L488.533,562.38 L488.951,562.52 L489.370,562.68 L489.789,562.84 L490.208,563.01 L490.627,563.19 L491.046,563.37 L491.465,563.57 L491.883,563.76 L492.302,563.97 L492.721,564.17 L493.140,564.38 L493.559,564.60 L493.978,564.81 L494.397,565.03 L494.815,565.25 L495.234,565.47 L495.653,565.70 L496.072,565.92 L496.491,566.15 L496.910,566.37 L497.329,566.60 L497.747,566.82 L498.166,567.04 L498.585,567.27 L499.004,567.49 L499.423,567.71 L499.842,567.93 L500.261,568.15 L500.679,568.37 L501.098,568.58 L501.517,568.79 L501.936,569.00 L502.355,569.21 L502.774,569.42 L503.193,569.62 L503.611,569.83 L504.030,570.03 L504.449,570.22 L504.868,570.42 L505.287,570.61 L505.706,570.80 L506.125,570.99 L506.543,571.17 L506.962,571.36 L507.381,571.54 L507.800,571.71 L508.219,571.89 L508.638,572.06 L509.057,572.23 L509.475,572.40 L509.894,572.56 L510.313,572.72 L510.732,572.88 L511.151,573.03 L511.570,573.19 L511.989,573.34 L512.407,573.49 L512.826,573.63 L513.245,573.77 L513.664,573.91 L514.083,574.05 L514.502,574.19 L514.921,574.32 L515.339,574.45 L515.758,574.58 L516.177,574.70 L516.596,574.82 L517.015,574.94 L517.434,575.06 L517.853,575.17 L518.271,575.29 L518.690,575.40 L519.109,575.50 L519.528,575.61 L519.947,575.71 L520.366,575.81 L520.785,575.91 L521.203,576.01 L521.622,576.10 L522.041,576.19 L522.460,576.28 L522.879,576.37 L523.298,576.45 L523.717,576.53 L524.135,576.61 L524.554,576.69 L524.973,576.76 L525.392,576.84 L525.811,576.91 L526.230,576.98 L526.649,577.04 L527.067,577.11 L527.486,577.17 L527.905,577.23 L528.324,577.29 L528.743,577.34 L529.162,577.39 L529.581,577.44 L529.999,577.49 L530.418,577.54 L530.837,577.58 L531.256,577.62 L531.675,577.66 L532.094,577.70 L532.513,577.73 L532.931,577.76 L533.350,577.79 L533.769,577.82 L534.188,577.84 L534.607,577.86 L535.026,577.88 L535.445,577.90 L535.863,577.91 L536.282,577.92 L536.701,577.93 L537.120,577.93 L537.539,577.93 L537.958,577.93 L538.377,577.93 L538.795,577.92 L539.214,577.90 L539.633,577.89 L540.052,577.87 L540.471,577.85 L540.890,577.82 L541.309,577.79 L541.727,577.75 L542.146,577.71 L542.565,577.67 L542.984,577.62 L543.403,577.57 L543.822,577.51 L544.241,577.44 L544.659,577.37 L545.078,577.30 L545.497,577.22 L545.916,577.13 L546.335,577.03 L546.754,576.93 L547.173,576.82 L547.591,576.71 L548.010,576.58 L548.429,576.45 L548.848,576.31 L549.267,576.16 L549.686,576.00 L550.105,575.83 L550.523,575.65 L550.942,575.46 L551.361,575.26 L551.780,575.05 L552.199,574.82 L552.618,574.59 L553.037,574.34 L553.455,574.08 L553.874,573.81 L554.293,573.53 L554.712,573.23 L555.131,572.92 L555.550,572.60 L555.969,572.27 L556.387,571.92 L556.806,571.56 L557.225,571.20 L557.644,570.82 L558.063,570.43 L558.482,570.04 L558.901,569.63 L559.319,569.22 L559.738,568.81 L560.157,568.39 L560.576,567.98 L560.995,567.56 L561.414,567.14 L561.833,566.73 L562.251,566.33 L562.670,565.93 L563.089,565.54 L563.508,565.17 L563.927,564.80 L564.346,564.46 L564.765,564.12 L565.183,563.81 L565.602,563.52 L566.021,563.25 L566.440,562.99 L566.859,562.76 L567.278,562.56 L567.697,562.37 L568.115,562.21 L568.534,562.07 L568.953,561.95 L569.372,561.86 L569.791,561.79 L570.210,561.74 L570.629,561.71 L571.047,561.70 L571.466,561.71 L571.885,561.73 L572.304,561.78 L572.723,561.84 L573.142,561.92 L573.561,562.01 L573.979,562.12 L574.398,562.23 L574.817,562.37 L575.236,562.51 L575.655,562.66 L576.074,562.82 L576.493,562.99 L576.911,563.17 L577.330,563.35 L577.749,563.54 L578.168,563.74 L578.587,563.94 L579.006,564.15 L579.425,564.36 L579.843,564.57 L580.262,564.79 L580.681,565.01 L581.100,565.23 L581.519,565.45 L581.938,565.67 L582.357,565.90 L582.775,566.12 L583.194,566.35 L583.613,566.57 L584.032,566.80 L584.451,567.02 L584.870,567.24 L585.289,567.46 L585.707,567.69 L586.126,567.91 L586.545,568.12 L586.964,568.34 L587.383,568.56 L587.802,568.77 L588.221,568.98 L588.639,569.19 L589.058,569.40 L589.477,569.60 L589.896,569.80 L590.315,570.00 L590.734,570.20 L591.153,570.40 L591.571,570.59 L591.990,570.78 L592.409,570.97 L592.828,571.15 L593.247,571.34 L593.666,571.52 L594.085,571.69 L594.503,571.87 L594.922,572.04 L595.341,572.21 L595.760,572.38 L596.179,572.54 L596.598,572.70 L597.017,572.86 L597.435,573.02 L597.854,573.17 L598.273,573.32 L598.692,573.47 L599.111,573.62 L599.530,573.76 L599.949,573.90 L600.367,574.04 L600.786,574.17 L601.205,574.30 L601.624,574.43 L602.043,574.56 L602.462,574.69 L602.881,574.81 L603.299,574.93 L603.718,575.05 L604.137,575.16 L604.556,575.27 L604.975,575.38 L605.394,575.49 L605.813,575.60 L606.231,575.70 L606.650,575.80 L607.069,575.90 L607.488,576.00 L607.907,576.09 L608.326,576.18 L608.745,576.27 L609.163,576.36 L609.582,576.44 L610.001,576.52 L610.420,576.60 L610.839,576.68 L611.258,576.76 L611.677,576.83 L612.095,576.90 L612.514,576.97 L612.933,577.04 L613.352,577.10 L613.771,577.16 L614.190,577.22 L614.609,577.28 L615.027,577.33 L615.446,577.39 L615.865,577.44 L616.284,577.49 L616.703,577.53 L617.122,577.58 L617.541,577.62 L617.959,577.66 L618.378,577.69 L618.797,577.73 L619.216,577.76 L619.635,577.79 L620.054,577.81 L620.473,577.84 L620.891,577.86 L621.310,577.88 L621.729,577.90 L622.148,577.91 L622.567,577.92 L622.986,577.93 L623.405,577.93 L623.823,577.93 L624.242,577.93 L624.661,577.93 L625.080,577.92 L625.499,577.91 L625.918,577.89 L626.337,577.87 L626.755,577.85 L627.174,577.82 L627.593,577.79 L628.012,577.76 L628.431,577.72 L628.850,577.68 L629.269,577.63 L629.687,577.57 L630.106,577.52 L630.525,577.45 L630.944,577.38 L631.363,577.31 L631.782,577.23 L632.201,577.14 L632.619,577.04 L633.038,576.94 L633.457,576.83 L633.876,576.72 L634.295,576.60 L634.714,576.46 L635.133,576.32 L635.551,576.17 L635.970,576.02 L636.389,575.85 L636.808,575.67 L637.227,575.48 L637.646,575.28 L638.065,575.07 L638.483,574.85 L638.902,574.62 L639.321,574.37 L639.740,574.11 L640.159,573.84 L640.578,573.56 L640.997,573.27 L641.415,572.96 L641.834,572.64 L642.253,572.31 L642.672,571.96 L643.091,571.61 L643.510,571.24 L643.929,570.86 L644.347,570.48 L644.766,570.08 L645.185,569.68 L645.604,569.27 L646.023,568.86 L646.442,568.44 L646.861,568.02 L647.279,567.61 L647.698,567.19 L648.117,566.78 L648.536,566.37 L648.955,565.97 L649.374,565.59 L649.793,565.21 L650.211,564.84 L650.630,564.49 L651.049,564.16 L651.468,563.85 L651.887,563.55 L652.306,563.27 L652.725,563.02 L653.143,562.79 L653.562,562.58 L653.981,562.39 L654.400,562.23" fill="none" stroke="#ff5722" stroke-width="2.0" stroke-linejoin="round" stroke-linecap="round"/>
</g>
<rect x="592" y="75.3" width="14" height="9.4" fill="#4caf50"/>
<rect x="592" y="93.3" width="14" height="9.4" fill="#ff5722"/>
<text x="612" y="83.2" font-size="12.3" textLength="36.3" lengthAdjust="spacingAndGlyphs" fill="#4caf50" stroke="#4caf50" class="lg">Prey</text>
<text x="612" y="101.2" font-size="12.3" textLength="80.8" lengthAdjust="spacingAndGlyphs" fill="#ff5722" stroke="#ff5722" class="lg">Predators</text>
</g>
</svg>
</body></html>
